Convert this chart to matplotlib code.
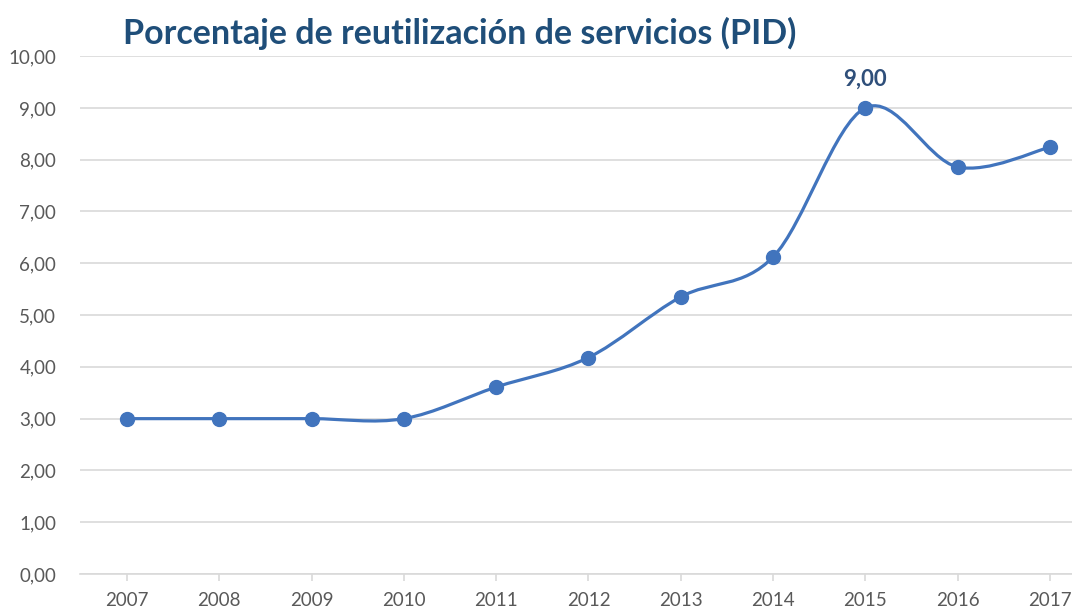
import matplotlib
matplotlib.use('Agg')
import matplotlib.pyplot as plt
import numpy as np
from matplotlib.path import Path
from matplotlib.patches import PathPatch
from matplotlib.ticker import FuncFormatter

years = [2007, 2008, 2009, 2010, 2011, 2012, 2013, 2014, 2015, 2016, 2017]
values = [3.00, 3.00, 3.00, 3.00, 3.61, 4.18, 5.35, 6.12, 9.00, 7.86, 8.24]
title = 'Porcentaje de reutilización de servicios (PID)'

LINE = '#4174BD'
TITLE_C = '#1F4E79'
GRID = '#D9D9D9'
TXT = '#595959'

plt.rcParams['font.family'] = ['Lato', 'DejaVu Sans']

fig = plt.figure(figsize=(10.72, 6.10), dpi=100)
ax = fig.add_axes([0.0746, 0.059, 0.9254, 0.849])

# smoothed line like Excel (Catmull-Rom as cubic Bezier)
x = np.array(years, dtype=float)
y = np.array(values, dtype=float)
verts = [(x[0], y[0])]
codes = [Path.MOVETO]
n = len(x)
for i in range(n - 1):
    p0 = np.array([x[max(i - 1, 0)], y[max(i - 1, 0)]])
    p1 = np.array([x[i], y[i]])
    p2 = np.array([x[i + 1], y[i + 1]])
    p3 = np.array([x[min(i + 2, n - 1)], y[min(i + 2, n - 1)]])
    c1 = p1 + (p2 - p0) / 6.0
    c2 = p2 - (p3 - p1) / 6.0
    verts += [tuple(c1), tuple(c2), tuple(p2)]
    codes += [Path.CURVE4] * 3
ax.add_patch(PathPatch(Path(verts, codes), facecolor='none', edgecolor=LINE,
                       linewidth=2.3, capstyle='round', zorder=3))
ax.plot(x, y, 'o', color=LINE, markersize=10, zorder=4)

ipk = values.index(max(values))
ax.annotate(f'{values[ipk]:.2f}'.replace('.', ','), (years[ipk], values[ipk]),
            xytext=(0, 13), textcoords='offset points', ha='center', va='bottom',
            fontsize=16, fontweight='bold', color='#2F4F7A')

ax.set_xlim(2006.49, 2017.24)
ax.set_ylim(0, 10)
ax.set_yticks(np.arange(0, 11, 1))
ax.yaxis.set_major_formatter(FuncFormatter(lambda v, p: f'{v:.2f}'.replace('.', ',')))
ax.set_xticks(years)
ax.set_xticklabels([str(v) for v in years])
ax.grid(axis='y', color=GRID, linewidth=1.2)
ax.set_axisbelow(True)
for s in ['left', 'right', 'top']:
    ax.spines[s].set_visible(False)
ax.spines['bottom'].set_color(GRID)
ax.spines['bottom'].set_linewidth(1.2)
ax.tick_params(axis='y', length=0, pad=17, labelsize=13.5, labelcolor=TXT)
ax.tick_params(axis='x', length=5, color=GRID, width=1.2, pad=8, labelsize=13.5,
               labelcolor=TXT)

fig.text(0.115, 0.945, title, fontsize=24.5, fontweight='bold', color=TITLE_C,
         ha='left', va='center')

fig.savefig('out.png', dpi=100)
